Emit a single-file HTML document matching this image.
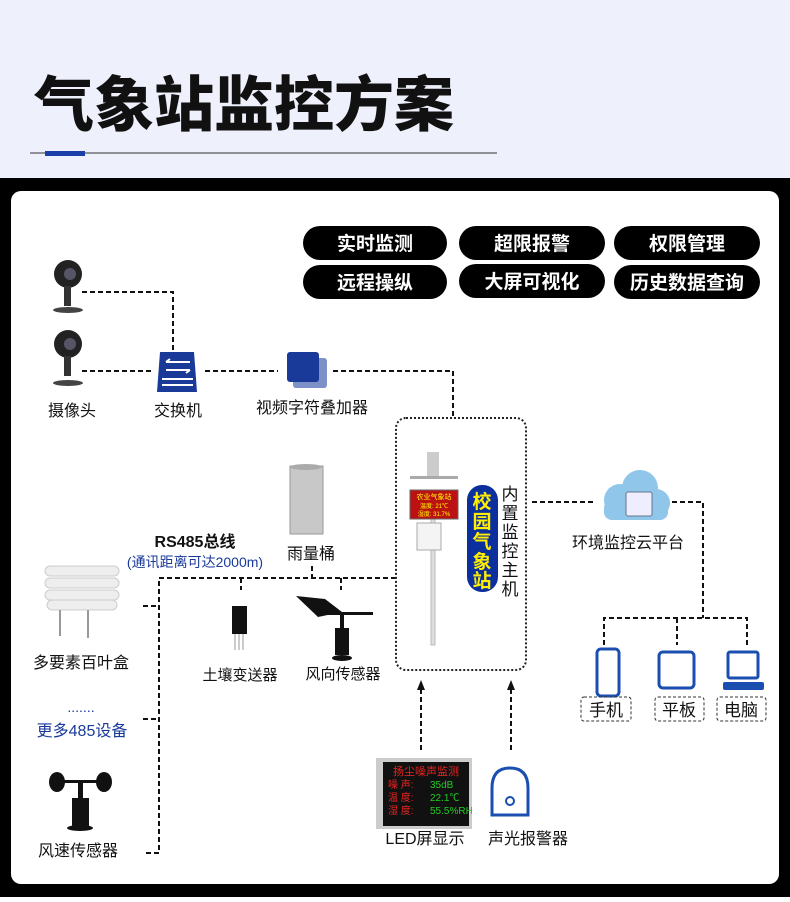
<!DOCTYPE html>
<html><head><meta charset="utf-8"><style>
body{margin:0;width:790px;height:897px;overflow:hidden;font-family:"Liberation Sans","Noto Sans CJK SC",sans-serif;}
svg text{font-family:"Liberation Sans","Noto Sans CJK SC",sans-serif;}
</style></head><body>
<svg width="790" height="897" viewBox="0 0 790 897" xmlns="http://www.w3.org/2000/svg">
<rect x="0" y="0" width="790" height="178" fill="#eef0fb"/>
<text x="34" y="126" font-size="60" font-weight="900" fill="#111">气象站监控方案</text>
<line x1="30" y1="153" x2="497" y2="153" stroke="#333" stroke-width="1"/>
<rect x="45" y="151" width="40" height="5" fill="#1a3fa8"/>
<rect x="0" y="178" width="790" height="719" fill="#000"/>
<rect x="11" y="191" width="768" height="693" rx="10" fill="#fff"/>

<g fill="#000">
<rect x="303" y="226" width="144" height="34" rx="17"/><rect x="459" y="226" width="146" height="34" rx="17"/><rect x="614" y="226" width="146" height="34" rx="17"/>
<rect x="303" y="265" width="144" height="34" rx="17"/><rect x="459" y="264" width="146" height="34" rx="17"/><rect x="614" y="265" width="146" height="34" rx="17"/>
</g>
<g fill="#fff" font-size="19" font-weight="bold" text-anchor="middle">
<text x="375" y="250">实时监测</text><text x="532" y="250">超限报警</text><text x="687" y="250">权限管理</text>
<text x="375" y="289">远程操纵</text><text x="532" y="288">大屏可视化</text><text x="687" y="289">历史数据查询</text>
</g>

<g fill="none" stroke="#111" stroke-width="2" stroke-dasharray="5,3">
<polyline points="82,292 173,292 173,350"/>
<line x1="82" y1="371" x2="154" y2="371"/>
<line x1="205" y1="371" x2="278" y2="371"/>
<polyline points="333,371 453,371 453,418"/>
<line x1="532" y1="502" x2="595" y2="502"/>
<polyline points="672,502 703,502 703,618"/>
<polyline points="604,645 604,618 747,618 747,645"/>
<line x1="677" y1="618" x2="677" y2="645"/>
<line x1="421" y1="750" x2="421" y2="690"/>
<line x1="511" y1="750" x2="511" y2="690"/>
<polyline points="396,578 159,578 159,853 143,853"/>
<line x1="143" y1="606" x2="159" y2="606"/>
<line x1="143" y1="719" x2="159" y2="719"/>
<line x1="241" y1="578" x2="241" y2="590"/>
<line x1="341" y1="578" x2="341" y2="590"/>
<line x1="312" y1="566" x2="312" y2="578"/>
</g>
<polygon points="421,680 417,690 425,690" fill="#111"/>
<polygon points="511,680 507,690 515,690" fill="#111"/>
<rect x="396" y="418" width="130" height="252" rx="10" fill="none" stroke="#222" stroke-width="2" stroke-dasharray="2,2"/>

<g>
<circle cx="68" cy="274" r="14" fill="#222"/><circle cx="70" cy="274" r="6" fill="#556"/><rect x="64" y="286" width="7" height="20" fill="#333"/><ellipse cx="68" cy="310" rx="15" ry="3" fill="#444"/>
<circle cx="68" cy="344" r="14" fill="#222"/><circle cx="70" cy="344" r="6" fill="#556"/><rect x="64" y="356" width="7" height="20" fill="#333"/><ellipse cx="68" cy="383" rx="15" ry="3" fill="#444"/>
</g>
<text x="72" y="416" font-size="16" text-anchor="middle" fill="#111">摄像头</text>
<path d="M160,352 L194,352 L197,392 L157,392 Z" fill="#1a3a9a"/>
<path d="M166,362 L190,362 M166,362 l4,-3 M190,370 L166,370 M190,370 l-4,3" stroke="#fff" stroke-width="2"/>
<g fill="#fff"><rect x="162" y="378" width="31" height="2"/><rect x="162" y="384" width="31" height="2"/></g>
<text x="178" y="416" font-size="16" text-anchor="middle" fill="#111">交换机</text>
<rect x="293" y="358" width="34" height="30" rx="3" fill="#7d90c8"/>
<rect x="287" y="352" width="32" height="30" rx="3" fill="#1a3a9a"/>
<text x="312" y="413" font-size="16" text-anchor="middle" fill="#111">视频字符叠加器</text>

<rect x="431" y="500" width="4" height="145" fill="#ddd" stroke="#bbb"/>
<rect x="427" y="452" width="12" height="25" fill="#ccc"/>
<rect x="410" y="476" width="48" height="3" fill="#aaa"/>
<rect x="410" y="490" width="48" height="29" fill="#b11" stroke="#666"/>
<text x="434" y="499" font-size="7" fill="#ff0" text-anchor="middle">农业气象站</text>
<text x="434" y="508" font-size="6" fill="#ff0" text-anchor="middle">温度: 21℃</text>
<text x="434" y="516" font-size="6" fill="#ff0" text-anchor="middle">湿度: 31.7%</text>
<rect x="417" y="523" width="24" height="27" fill="#f4f4f4" stroke="#aaa"/>
<rect x="467" y="485" width="31" height="107" rx="15" fill="#0b2f9c"/>
<g font-size="19" font-weight="bold" fill="#ffee00" text-anchor="middle">
<text x="482" y="508">校</text><text x="482" y="528">园</text><text x="482" y="548">气</text><text x="482" y="568">象</text><text x="482" y="587">站</text></g>
<g font-size="17" fill="#111" text-anchor="middle">
<text x="510" y="500">内</text><text x="510" y="519">置</text><text x="510" y="538">监</text><text x="510" y="557">控</text><text x="510" y="576">主</text><text x="510" y="595">机</text></g>

<g fill="#8fc6ea"><circle cx="620" cy="500" r="16"/><circle cx="640" cy="488" r="18"/><circle cx="656" cy="503" r="14"/><rect x="604" y="500" width="64" height="20" rx="8"/></g>
<rect x="626" y="492" width="26" height="24" rx="2" fill="#eef" stroke="#678"/>
<text x="628" y="548" font-size="16" text-anchor="middle" fill="#111">环境监控云平台</text>

<rect x="597" y="649" width="22" height="47" rx="4" fill="none" stroke="#1a4fb0" stroke-width="3"/>
<rect x="659" y="652" width="35" height="36" rx="4" fill="none" stroke="#1a4fb0" stroke-width="3"/>
<rect x="728" y="652" width="30" height="26" rx="2" fill="none" stroke="#1a4fb0" stroke-width="3"/>
<rect x="723" y="682" width="41" height="8" rx="2" fill="#1a4fb0"/>
<g fill="none" stroke="#333" stroke-dasharray="3,2"><rect x="581" y="697" width="50" height="24" rx="3"/><rect x="655" y="697" width="49" height="24" rx="3"/><rect x="717" y="697" width="49" height="24" rx="3"/></g>
<g font-size="17" text-anchor="middle" fill="#111"><text x="606" y="716">手机</text><text x="679" y="716">平板</text><text x="741" y="716">电脑</text></g>

<rect x="376" y="758" width="96" height="71" fill="#ccc"/>
<rect x="383" y="762" width="86" height="64" fill="#111"/>
<text x="426" y="775" font-size="11" fill="#e22" text-anchor="middle">扬尘噪声监测</text>
<g font-size="10"><text x="388" y="788" fill="#e22">噪 声:</text><text x="430" y="788" fill="#2c2">35dB</text>
<text x="388" y="801" fill="#e22">温 度:</text><text x="430" y="801" fill="#2c2">22.1℃</text>
<text x="388" y="814" fill="#e22">湿 度:</text><text x="430" y="814" fill="#2c2">55.5%RH</text></g>
<path d="M492,788 Q492,768 510,768 Q528,768 528,788 L528,815 L492,815 Z" fill="none" stroke="#1a4fb0" stroke-width="3"/>
<circle cx="510" cy="801" r="4" fill="none" stroke="#1a4fb0" stroke-width="2"/>
<text x="425" y="844" font-size="16" text-anchor="middle" fill="#111">LED屏显示</text>
<text x="528" y="844" font-size="16" text-anchor="middle" fill="#111">声光报警器</text>

<rect x="290" y="466" width="33" height="68" fill="#c8c8c8" stroke="#999"/>
<ellipse cx="306" cy="467" rx="16" ry="3" fill="#aaa"/>
<text x="311" y="559" font-size="16" text-anchor="middle" fill="#111">雨量桶</text>
<text x="195" y="547" font-size="16" font-weight="bold" text-anchor="middle" fill="#111">RS485总线</text>
<text x="195" y="567" font-size="14" text-anchor="middle" fill="#1a3a9a">(通讯距离可达2000m)</text>
<g fill="#eee" stroke="#ccc"><rect x="45" y="566" width="74" height="10" rx="5"/><rect x="45" y="578" width="74" height="10" rx="5"/><rect x="45" y="590" width="74" height="10" rx="5"/><rect x="47" y="600" width="70" height="10" rx="5"/></g>
<g stroke="#999" stroke-width="2"><line x1="60" y1="610" x2="60" y2="636"/><line x1="88" y1="610" x2="88" y2="638"/></g>
<text x="81" y="668" font-size="16" text-anchor="middle" fill="#111">多要素百叶盒</text>
<text x="81" y="712" font-size="14" text-anchor="middle" fill="#1a3a9a">.......</text>
<text x="82" y="736" font-size="16" text-anchor="middle" fill="#1a3a9a">更多485设备</text>
<g fill="#111"><ellipse cx="57" cy="782" rx="8" ry="10"/><ellipse cx="104" cy="782" rx="8" ry="10"/><rect x="57" y="780" width="47" height="3"/><rect x="78" y="780" width="5" height="20"/><rect x="72" y="798" width="17" height="28"/><ellipse cx="80" cy="828" rx="13" ry="3"/></g>
<text x="78" y="856" font-size="16" text-anchor="middle" fill="#111">风速传感器</text>
<rect x="232" y="606" width="15" height="28" fill="#111"/>
<g stroke="#999"><line x1="235" y1="634" x2="235" y2="650"/><line x1="239" y1="634" x2="239" y2="650"/><line x1="243" y1="634" x2="243" y2="650"/></g>
<text x="240" y="680" font-size="15" text-anchor="middle" fill="#111">土壤变送器</text>
<path d="M296,596 L325,599 L342,612 L318,617 Z" fill="#111"/>
<rect x="325" y="612" width="48" height="3" fill="#111"/>
<rect x="340" y="612" width="4" height="18" fill="#111"/>
<rect x="335" y="628" width="14" height="27" fill="#111"/><ellipse cx="342" cy="658" rx="10" ry="3" fill="#111"/>
<text x="343" y="679" font-size="15" text-anchor="middle" fill="#111">风向传感器</text>
</svg>
</body></html>
